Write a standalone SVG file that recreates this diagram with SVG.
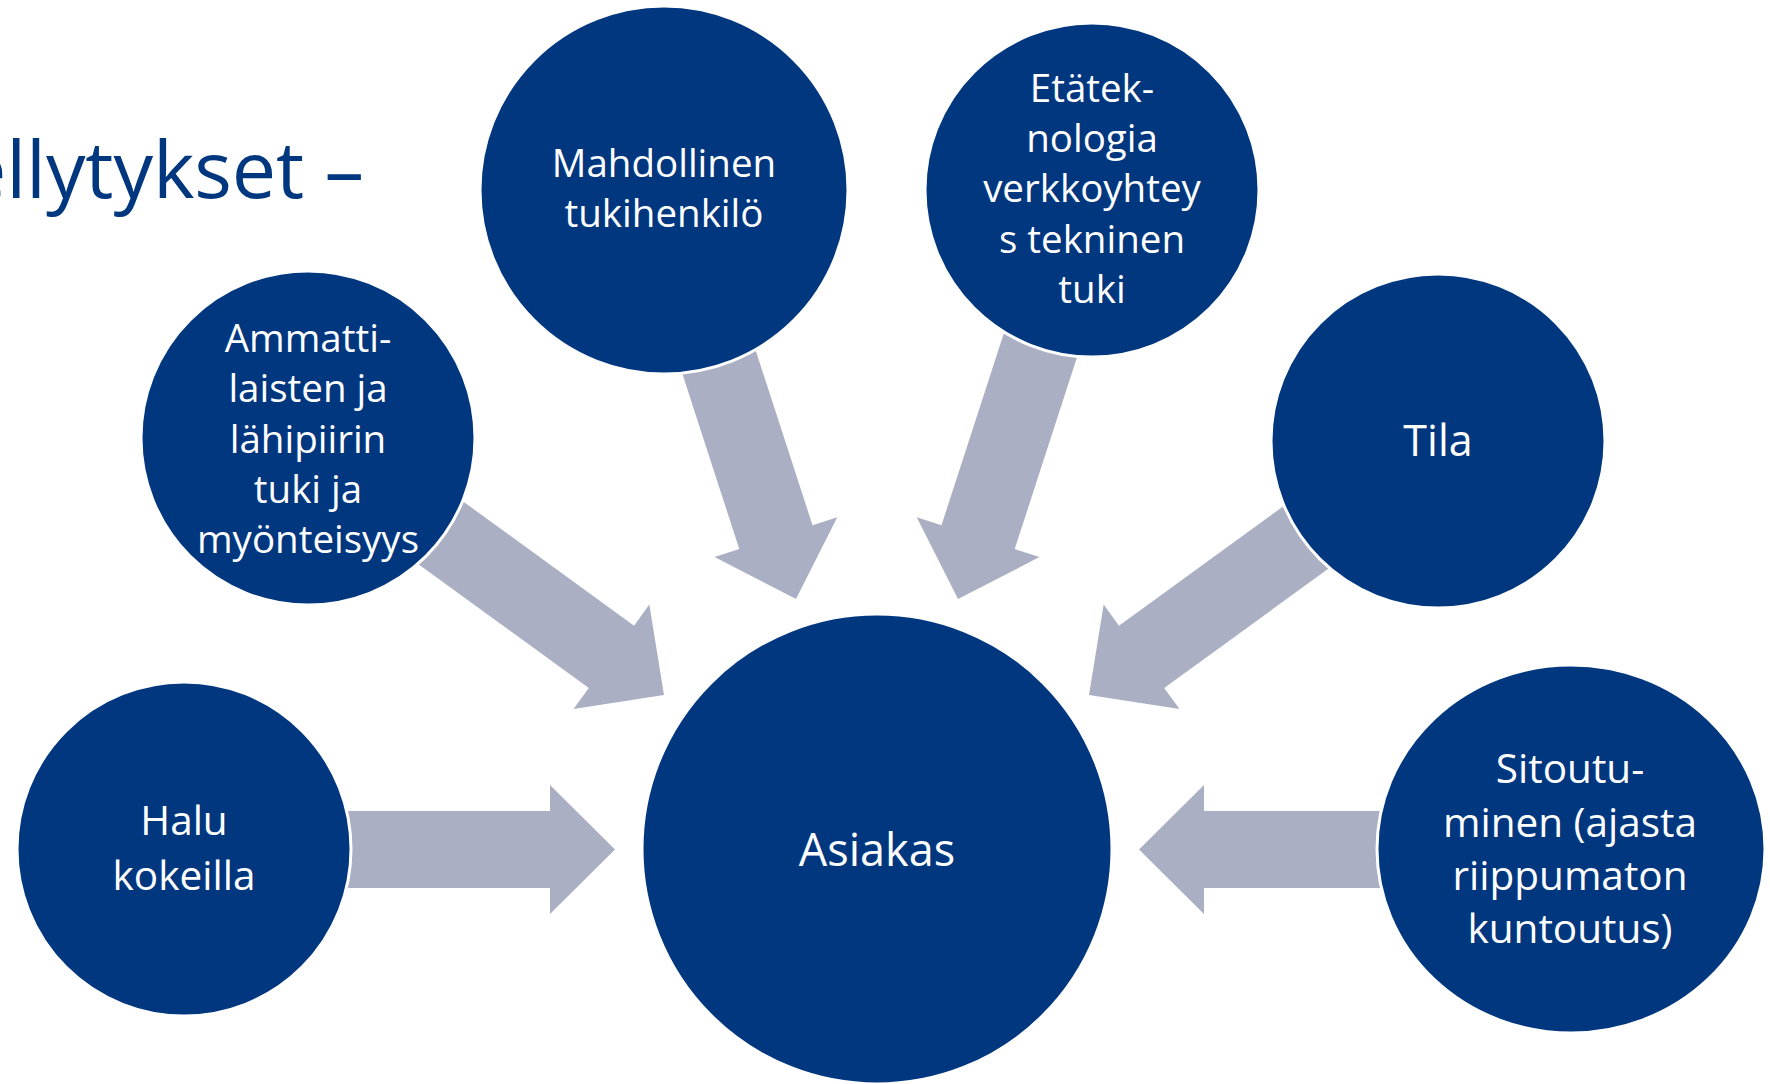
<svg xmlns="http://www.w3.org/2000/svg" width="1770" height="1084" viewBox="0 0 1770 1084">
  <style>
    .node { fill: #00377F; stroke: #FFFFFF; stroke-width: 3; }
    .arrow { fill: #ABAFC3; }
    .lbl { font-family: "Open Sans", "Noto Sans", "Liberation Sans", sans-serif; fill: #FFFFFF; text-anchor: middle; }
    .s1 { font-size: 38.5px; }
    .s2 { font-size: 40.5px; }
    .s3 { font-size: 45px; }
    .s4 { font-size: 43px; }
    .title { font-family: "Open Sans", "Noto Sans", "Liberation Sans", sans-serif; fill: #00377F; font-size: 79px; letter-spacing: -0.1px; text-anchor: end; }
  </style>
  <rect x="0" y="0" width="1770" height="1084" fill="#FFFFFF"/>
  <text class="title" x="364" y="198">ellytykset –</text>
  <g id="connectors">
    <polygon class="arrow" transform="translate(615,849.5)" points="0,0 -65,-64.5 -65,-38.5 -275,-38.5 -275,38.5 -65,38.5 -65,64.5"/>
    <polygon class="arrow" transform="translate(664,695) rotate(36)" points="0,0 -65,-64.5 -65,-38.5 -290,-38.5 -290,38.5 -65,38.5 -65,64.5"/>
    <polygon class="arrow" transform="translate(796,599) rotate(72)" points="0,0 -65,-64.5 -65,-38.5 -270,-38.5 -270,38.5 -65,38.5 -65,64.5"/>
    <polygon class="arrow" transform="translate(958,599) rotate(108)" points="0,0 -65,-64.5 -65,-38.5 -285,-38.5 -285,38.5 -65,38.5 -65,64.5"/>
    <polygon class="arrow" transform="translate(1089,695) rotate(144)" points="0,0 -65,-64.5 -65,-38.5 -290,-38.5 -290,38.5 -65,38.5 -65,64.5"/>
    <polygon class="arrow" transform="translate(1139,849.5) rotate(180)" points="0,0 -65,-64.5 -65,-38.5 -250,-38.5 -250,38.5 -65,38.5 -65,64.5"/>
  </g>
  <g id="asiakas">
    <circle class="node" cx="877" cy="849" r="235"/>
    <text class="lbl s3" x="877" y="866">Asiakas</text>
  </g>
  <g id="halu">
    <circle class="node" cx="184" cy="849" r="167"/>
    <text class="lbl s2" x="184" y="835">Halu</text>
    <text class="lbl s2" x="184" y="890">kokeilla</text>
  </g>
  <g id="ammattilaisten">
    <circle class="node" cx="308" cy="438" r="167"/>
    <text class="lbl s1" x="308" y="352">Ammatti-</text>
    <text class="lbl s1" x="308" y="402">laisten ja</text>
    <text class="lbl s1" x="308" y="453">lähipiirin</text>
    <text class="lbl s1" x="308" y="503">tuki ja</text>
    <text class="lbl s1" x="308" y="553">myönteisyys</text>
  </g>
  <g id="mahdollinen">
    <circle class="node" cx="664" cy="190" r="184"/>
    <text class="lbl s1" x="664" y="177">Mahdollinen</text>
    <text class="lbl s1" x="664" y="227">tukihenkilö</text>
  </g>
  <g id="etatek">
    <circle class="node" cx="1092" cy="190" r="167"/>
    <text class="lbl s1" x="1092" y="102">Etätek-</text>
    <text class="lbl s1" x="1092" y="152">nologia</text>
    <text class="lbl s1" x="1092" y="202">verkkoyhtey</text>
    <text class="lbl s1" x="1092" y="253">s tekninen</text>
    <text class="lbl s1" x="1092" y="303">tuki</text>
  </g>
  <g id="tila">
    <circle class="node" cx="1438" cy="441" r="167"/>
    <text class="lbl s4" x="1438" y="456">Tila</text>
  </g>
  <g id="sitoutuminen">
    <ellipse class="node" cx="1571" cy="849" rx="194" ry="184"/>
    <text class="lbl s2" x="1570" y="783">Sitoutu-</text>
    <text class="lbl s2" x="1570" y="837">minen (ajasta</text>
    <text class="lbl s2" x="1570" y="890">riippumaton</text>
    <text class="lbl s2" x="1570" y="943">kuntoutus)</text>
  </g>
</svg>
